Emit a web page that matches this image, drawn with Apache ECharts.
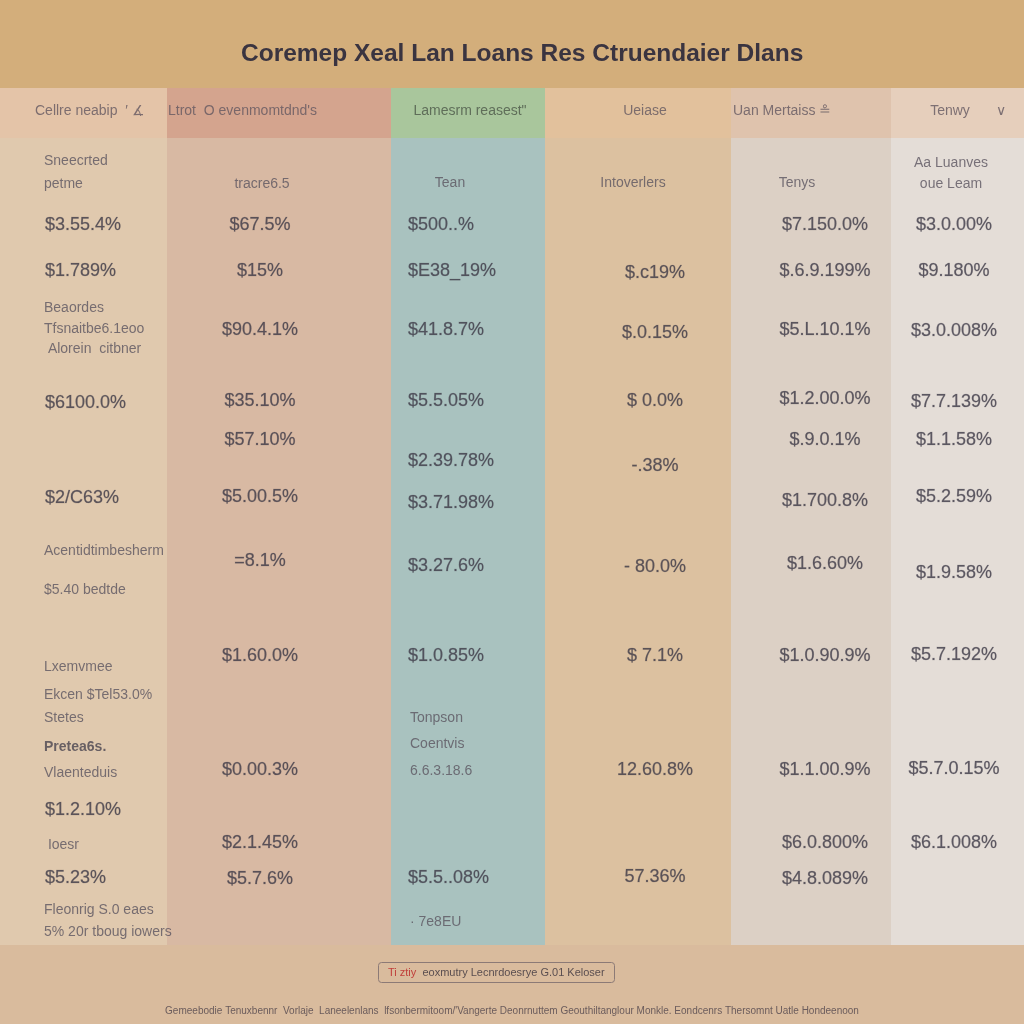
<!DOCTYPE html>
<html><head><meta charset="utf-8">
<script src="https://cdn.jsdelivr.net/npm/echarts@6/dist/echarts.min.js"></script>
<style>html,body{margin:0;padding:0;background:#d9bb9d}#c{width:1024px;height:1024px}</style>
</head><body><div id="c"></div>
<script>
// ---------- DATA ----------
const titleText = "Coremep Xeal Lan Loans Res Ctruendaier Dlans";
const headerLabels = ["Cellre neabip  \u2032 \u2221", "Ltrot  O evenmomtdnd's", "Lamesrm reasest\"", "Ueiase", "Uan Mertaiss \u2257", "Tenwy", "\u2228"];
const footerBoxRed = "Ti ztiy";
const footerBoxText = "eoxmutry Lecnrdoesrye G.01 Keloser";
const footerLine = "Gemeebodie Tenuxbennr  Vorlaje  Laneelenlans  lfsonbermitoom/'Vangerte Deonrnuttem Geouthiltanglour Monkle. Eondcenrs Thersomnt Uatle Hondeenoon";

// column boundaries (in table units) and row band extents
const columnEdges = [0, 167, 391, 545, 731, 891, 1024];
const bands = { title: [0, 88], header: [88, 138], body: [138, 945], footer: [945, 1024] };

// cells: [row position, text]
const col1Values = [[225, "$3.55.4%"], [271, "$1.789%"], [403, "$6100.0%"], [498, "$2/C63%"], [810, "$1.2.10%"], [878, "$5.23%"]];
const col1Notes = [[161, "Sneecrted"], [184, "petme"], [308, "Beaordes"], [329, "Tfsnaitbe6.1eoo"], [349, " Alorein  citbner"], [551, "Acentidtimbesherm"], [590, "$5.40 bedtde"], [667, "Lxemvmee"], [695, "Ekcen $Tel53.0%"], [718, "Stetes"], [773, "Vlaenteduis"], [845, " Ioesr"], [910, "Fleonrig S.0 eaes"], [932, "5% 20r tboug iowers"]];
const col1Bold = [[747, "Pretea6s."]];
const col2Values = [[225, "$67.5%"], [271, "$15%"], [330, "$90.4.1%"], [401, "$35.10%"], [440, "$57.10%"], [497, "$5.00.5%"], [561, "=8.1%"], [656, "$1.60.0%"], [770, "$0.00.3%"], [843, "$2.1.45%"], [879, "$5.7.6%"]];
const col2Notes = [[184, "tracre6.5"]];
const col3Values = [[225, "$500..%"], [271, "$E38_19%"], [330, "$41.8.7%"], [401, "$5.5.05%"], [461, "$2.39.78%"], [503, "$3.71.98%"], [566, "$3.27.6%"], [656, "$1.0.85%"], [878, "$5.5..08%"]];
const col3Notes = [[718, "Tonpson"], [744, "Coentvis"], [771, "6.6.3.18.6"], [922, "\u00b7 7e8EU"]];
const col3Head = [[183, "Tean"]];
const col4Values = [[273, "$.c19%"], [333, "$.0.15%"], [401, "$ 0.0%"], [466, "-.38%"], [567, "- 80.0%"], [656, "$ 7.1%"], [770, "12.60.8%"], [877, "57.36%"]];
const col4Notes = [[183, "Intoverlers"]];
const col5Values = [[225, "$7.150.0%"], [271, "$.6.9.199%"], [330, "$5.L.10.1%"], [399, "$1.2.00.0%"], [440, "$.9.0.1%"], [501, "$1.700.8%"], [564, "$1.6.60%"], [656, "$1.0.90.9%"], [770, "$1.1.00.9%"], [843, "$6.0.800%"], [879, "$4.8.089%"]];
const col5Notes = [[183, "Tenys"]];
const col6Values = [[225, "$3.0.00%"], [271, "$9.180%"], [331, "$3.0.008%"], [402, "$7.7.139%"], [440, "$1.1.58%"], [497, "$5.2.59%"], [573, "$1.9.58%"], [655, "$5.7.192%"], [769, "$5.7.0.15%"], [843, "$6.1.008%"]];
const col6Notes = [[163, "Aa Luanves"], [184, "oue Leam"]];

// ---------- LAYOUT / STYLE ----------
const headerColors = ["#e4c4a8", "#d4a48e", "#a9c69c", "#e2c19c", "#dfc3ad", "#e6cfbc"];
const bodyColors = ["#e0c9ae", "#d8b9a3", "#a9c2bf", "#dcc1a0", "#dcd0c5", "#e4ddd7"];
const bandColors = { title: "#d3ae7b", footer: "#d9bb9d" };
const headerAnchors = [[35, "left"], [168, "left"], [470, "center"], [645, "center"], [733, "left"], [950, "center"], [1001, "center"]];
const headerRow = 111;

const FONT = "'Liberation Sans',Arial,sans-serif";
const valueStyle = { fontSize: 18, color: "#3c3846", fontFamily: FONT, fontWeight: 'normal', letterSpacing: -0.6, textBorderColor: 'rgba(60,56,70,0.35)', textBorderWidth: 0.6 };
const noteStyle = { fontSize: 14, color: "#5b5560", fontFamily: FONT };

// rectangles from data
const rects = [];
rects.push({ value: [0, 1024, bands.title[0], bands.title[1]], c: bandColors.title });
rects.push({ value: [0, 1024, bands.footer[0], bands.footer[1]], c: bandColors.footer });
for (let i = 0; i < 6; i++) {
  rects.push({ value: [columnEdges[i], columnEdges[i + 1], bands.header[0], bands.header[1]], c: headerColors[i] });
  rects.push({ value: [columnEdges[i], columnEdges[i + 1], bands.body[0], bands.body[1]], c: bodyColors[i] });
}

function textSeries(list, x, align, style) {
  return {
    type: 'scatter', symbolSize: 0, silent: true, animation: false, z: 5,
    data: list.map(d => ({ value: [x, d[0]], name: d[1] })),
    label: Object.assign({ show: true, position: [0, 0], align: align, verticalAlign: 'middle', formatter: p => p.name }, style)
  };
}

const series = [
  {
    type: 'custom', silent: true, animation: false, z: 1,
    data: rects.map(r => r.value),
    renderItem: (params, api) => {
      const p0 = api.coord([api.value(0), api.value(2)]);
      const p1 = api.coord([api.value(1), api.value(3)]);
      return { type: 'rect', shape: { x: p0[0], y: p0[1], width: p1[0] - p0[0], height: p1[1] - p0[1] }, style: { fill: rects[params.dataIndex].c } };
    }
  },
  // header row
  ...headerLabels.map((h, i) => textSeries([[headerRow, h]], headerAnchors[i][0], headerAnchors[i][1], { fontSize: 14, color: i === 2 ? "#4c5848" : "#635860", fontFamily: FONT, letterSpacing: -0.3 })),
  textSeries(col1Values, 45, 'left', valueStyle),
  textSeries(col1Notes, 44, 'left', noteStyle),
  textSeries(col1Bold, 44, 'left', Object.assign({}, noteStyle, { fontWeight: 'bold', color: '#4a4550' })),
  textSeries(col2Values, 260, 'center', valueStyle),
  textSeries(col2Notes, 262, 'center', noteStyle),
  textSeries(col3Values, 408, 'left', valueStyle),
  textSeries(col3Notes, 410, 'left', noteStyle),
  textSeries(col3Head, 450, 'center', noteStyle),
  textSeries(col4Values, 655, 'center', valueStyle),
  textSeries(col4Notes, 633, 'center', noteStyle),
  textSeries(col5Values, 825, 'center', valueStyle),
  textSeries(col5Notes, 797, 'center', noteStyle),
  textSeries(col6Values, 954, 'center', valueStyle),
  textSeries(col6Notes, 951, 'center', noteStyle)
];

const chart = echarts.init(document.getElementById('c'), null, { renderer: 'canvas' });
chart.setOption({
  backgroundColor: bandColors.footer,
  animation: false,
  title: [
    { text: titleText, left: 236, top: 37, textStyle: { fontSize: 24.5, fontWeight: 'bold', color: '#3a3440', fontFamily: FONT, letterSpacing: -0.6 } },
    { text: '{r|' + footerBoxRed + '}  ' + footerBoxText, left: 378, top: 962, padding: [5, 10, 5, 10], borderColor: '#8c7a76', borderWidth: 1, borderRadius: 3,
      textStyle: { fontSize: 11, color: '#5a4e50', fontWeight: 'normal', fontFamily: FONT, rich: { r: { color: '#c0403c', fontSize: 11, fontFamily: FONT } } } },
    { text: footerLine, left: 'center', top: 1001, textStyle: { fontSize: 10, color: '#6b5c5c', fontWeight: 'normal', fontFamily: FONT } }
  ],
  grid: { left: 0, right: 0, top: 0, bottom: 0 },
  xAxis: { type: 'value', min: 0, max: 1024, show: false },
  yAxis: { type: 'value', min: 0, max: 1024, inverse: true, show: false },
  series: series
});
</script></body></html>
